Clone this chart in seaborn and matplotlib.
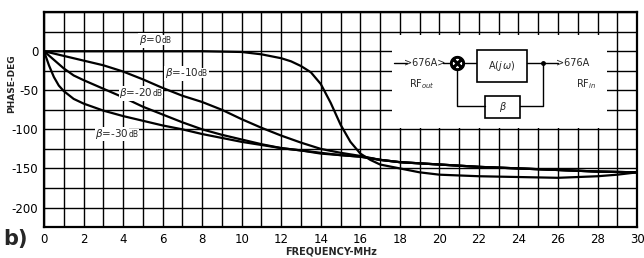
import matplotlib
matplotlib.use("Agg")
import matplotlib.pyplot as plt
import matplotlib.patches as patches
from matplotlib.ticker import MultipleLocator
import pandas as pd
import seaborn as sns

# Phase response (MHz, degrees)
freq_b0 = [0, 2, 4, 6, 8, 10, 11, 12, 12.5, 13, 13.5, 14, 14.5, 15, 15.5, 16, 16.5, 17, 18, 19, 20, 22, 24, 26, 28, 29, 30]
phase_b0 = [0, 0, 0, 0, 0, -1, -4, -9, -13, -19, -27, -42, -66, -94, -116, -131, -139, -145, -150, -155, -158, -160, -161, -162, -160, -158, -155]

freq_b10 = [0, 1, 2, 3, 4, 5, 6, 7, 8, 9, 10, 11, 12, 13, 14, 15, 16, 17, 18, 20, 22, 24, 26, 28, 30]
phase_b10 = [0, -6, -12, -18, -26, -36, -47, -57, -65, -75, -87, -98, -108, -117, -125, -130, -134, -139, -142, -145, -148, -150, -152, -154, -155]

freq_b20 = [0, 0.5, 1, 1.5, 2, 3, 4, 5, 6, 7, 8, 9, 10, 11, 12, 13, 14, 15, 16, 17, 18, 20, 22, 24, 26, 28, 30]
phase_b20 = [0, -11, -22, -31, -37, -48, -59, -71, -81, -91, -100, -107, -113, -119, -124, -127, -131, -133, -135, -139, -142, -145, -148, -150, -152, -154, -155]

freq_b30 = [0, 0.25, 0.5, 0.75, 1, 1.5, 2, 3, 4, 5, 6, 7, 8, 9, 10, 11, 12, 13, 14, 15, 16, 17, 18, 20, 22, 24, 26, 28, 30]
phase_b30 = [0, -18, -33, -44, -51, -61, -67, -76, -83, -89, -95, -100, -106, -111, -116, -120, -124, -127, -130, -133, -135, -139, -142, -145, -148, -150, -152, -154, -155]

x_ticks = list(range(0, 31, 2))
y_ticks = [0, -50, -100, -150, -200]

# curve labels: (text, unit, x, y)
curve_labels = [
    (r"$\beta$=0", "dB", 4.8, 14),
    (r"$\beta$=-10", "dB", 6.1, -28),
    (r"$\beta$=-20", "dB", 3.8, -54),
    (r"$\beta$=-30", "dB", 2.6, -106),
]


def main():
    frames = []
    for name, f, p in [("0", freq_b0, phase_b0), ("-10", freq_b10, phase_b10),
                       ("-20", freq_b20, phase_b20), ("-30", freq_b30, phase_b30)]:
        frames.append(pd.DataFrame({"freq": f, "phase": p, "beta": name}))
    df = pd.concat(frames, ignore_index=True)

    sns.set_theme(style="white")
    plt.rcParams["font.family"] = ["DejaVu Sans"]

    fig = plt.figure(figsize=(6.44, 2.58), dpi=100)
    ax = fig.add_axes([0.0683, 0.120, 0.921, 0.833])

    sns.lineplot(data=df, x="freq", y="phase", hue="beta", palette=["black"] * 4,
                 legend=False, linewidth=1.6, sort=False, ax=ax, zorder=3)

    ax.set_xlim(0, 30)
    ax.set_ylim(-225, 50)
    ax.set_xticks(x_ticks)
    ax.set_xticklabels([str(t) for t in x_ticks])
    ax.set_yticks(y_ticks)
    ax.set_yticklabels([str(t) for t in y_ticks])
    ax.xaxis.set_minor_locator(MultipleLocator(1))
    ax.yaxis.set_minor_locator(MultipleLocator(25))
    ax.set_axisbelow(True)
    ax.grid(True, which="both", color="black", linewidth=1.0)
    ax.tick_params(which="both", length=0, labelsize=8.5, colors="black", pad=4)
    for s in ax.spines.values():
        s.set_color("black")
        s.set_linewidth(1.6)
    ax.set_xlabel("")
    ax.set_ylabel("")

    for txt, unit, x, y in curve_labels:
        t = ax.text(x, y, txt, fontsize=7.5, ha="left", va="center", zorder=4,
                    bbox=dict(facecolor="white", edgecolor="none", pad=0.3))
        ax.annotate(unit, xycoords=t, xy=(1, 0.5), va="center", fontsize=5.5,
                    zorder=4, bbox=dict(facecolor="white", edgecolor="none", pad=0.3))

    # block diagram inset
    ax.add_patch(patches.Rectangle((17.6, -98), 10.9, 119, facecolor="white",
                                   edgecolor="none", zorder=1))
    yd = -15.5
    lk = dict(color="black", linewidth=1.0, zorder=4)
    ax.plot([17.7, 18.35], [yd, yd], **lk)
    ax.text(18.2, yd, ">676A>", fontsize=7, ha="left", va="center", zorder=4)
    ax.text(19.1, -42, r"RF$_{out}$", fontsize=7, ha="center", va="center", zorder=4)
    ax.plot([20.2, 20.55], [yd, yd], **lk)
    ax.plot([20.9], [yd], marker=r"$\otimes$", markersize=10, color="black", zorder=4)
    ax.plot([21.25, 21.9], [yd, yd], **lk)
    ax.add_patch(patches.Rectangle((21.9, -40), 2.55, 41.5, facecolor="white",
                                   edgecolor="black", linewidth=1.2, zorder=4))
    ax.text(23.17, -19, r"A($j\,\omega$)", fontsize=7, ha="center", va="center", zorder=5)
    ax.plot([24.45, 26.0], [yd, yd], **lk)
    ax.plot([25.24], [yd], marker="o", markersize=2.5, color="black", zorder=4)
    ax.text(25.9, yd, ">676A", fontsize=7, ha="left", va="center", zorder=4)
    ax.text(27.4, -42, r"RF$_{in}$", fontsize=7, ha="center", va="center", zorder=4)
    ax.plot([25.24, 25.24, 24.08], [yd, -70, -70], **lk)
    ax.add_patch(patches.Rectangle((22.3, -85), 1.78, 28, facecolor="white",
                                   edgecolor="black", linewidth=1.2, zorder=4))
    ax.text(23.2, -71, r"$\beta$", fontsize=7, ha="center", va="center", zorder=5)
    ax.plot([22.3, 20.9, 20.9], [-70, -70, yd - 9], **lk)

    fig.text(12 / 644, 1 - 84 / 258, "PHASE-DEG", rotation=90, fontsize=6.5,
             fontweight="bold", ha="center", va="center")
    fig.text(331 / 644, 1 - 251 / 258, "FREQUENCY-MHz", fontsize=7,
             fontweight="bold", ha="center", va="center")
    fig.text(3 / 644, 1 - 239 / 258, "b)", fontsize=15, fontweight="bold",
             ha="left", va="center")

    fig.savefig("out.png", dpi=100)


if __name__ == "__main__":
    main()
